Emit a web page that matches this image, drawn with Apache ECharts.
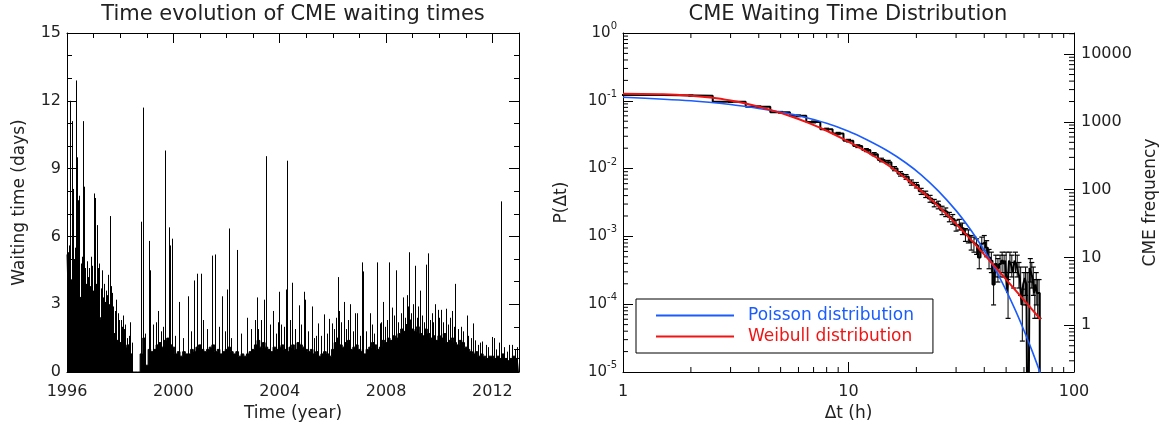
<!DOCTYPE html>
<html>
<head>
<meta charset="utf-8">
<title>CME waiting times</title>
<script src="https://cdn.jsdelivr.net/npm/echarts@6.0.0/dist/echarts.min.js"></script>
<style>
html, body { margin: 0; padding: 0; background: #fff; }
#chart { width: 1166px; height: 430px; }
</style>
</head>
<body>
<div id="chart"></div>
<script>
// ---- left panel: waiting times vs time
// dense part of the series, read off every 0.1 yr from 1996.0 to 2013.0
var baseStart = 1996, baseStep = 0.1;
var baseDays = [
    5.2, 3.0, 3.3, 3.6, 3.1, 3.3, 2.8, 3.2, 2.6, 2.3,   // 1996
    2.6, 2.8, 2.3, 2.4, 2.0, 2.1, 2.5, 2.6, 1.7, 1.4,   // 1997
    1.3, 1.0, 1.1, 1.2, 0.8, 0,   0,   0,   0.8, 1.5,   // 1998 (SOHO gap)
    0.3, 1.0, 0.9, 1.0, 1.2, 1.3, 1.1, 1.4, 1.5, 1.2,   // 1999
    1.1, 0.8, 0.9, 0.7, 0.9, 0.8, 0.8, 1.0, 0.9, 1.1,   // 2000
    1.2, 1.0, 0.9, 1.0, 1.1, 1.2, 0.9, 1.0, 0.8, 0.9,   // 2001
    1.0, 1.1, 0.9, 0.8, 0.9, 0.7, 0.8, 0.7, 0.8, 0.9,   // 2002
    1.0, 1.2, 1.4, 1.1, 1.3, 1.1, 1.0, 0.9, 1.1, 1.0,   // 2003
    1.1, 1.2, 1.0, 0.9, 1.1, 1.2, 1.0, 1.3, 1.2, 1.1,   // 2004
    1.0, 0.9, 1.0, 0.8, 0.9, 0.7, 0.8, 0.9, 0.8, 0.7,   // 2005
    1.0, 1.3, 1.5, 1.2, 1.1, 1.3, 1.4, 1.0, 1.1, 1.2,   // 2006
    1.0, 0.9, 0.8, 1.0, 1.1, 1.3, 1.2, 1.0, 1.1, 1.4,   // 2007
    1.3, 1.5, 1.4, 1.6, 1.5, 1.7, 1.9, 1.8, 2.1, 2.3,   // 2008
    1.9, 1.8, 2.0, 1.7, 1.6, 1.9, 1.7, 1.5, 1.6, 1.4,   // 2009
    1.6, 1.5, 1.7, 1.3, 1.4, 1.5, 1.3, 1.2, 1.4, 1.3,   // 2010
    1.1, 1.0, 0.9, 0.8, 0.9, 0.7, 0.8, 0.7, 0.6, 0.7,   // 2011
    0.7, 0.6, 0.7, 0.6, 0.8, 0.6, 0.5, 0.6, 0.7, 0.6,   // 2012
    0.6
];
// the long single waiting times
var spikeYears = [
    1996.05, 1996.11, 1996.17, 1996.22, 1996.28, 1996.33, 1996.37, 1996.42, 1996.47, 1996.55, 1996.60, 1996.65, 1996.75, 1996.83, 1996.90,
    1997.02, 1997.07, 1997.13, 1997.22, 1997.30, 1997.45, 1997.55, 1997.62, 1997.70, 1997.85, 1997.95,
    1998.10, 1998.25, 1998.38, 1998.78, 1998.84, 1998.92,
    1999.09, 1999.13, 1999.35, 1999.42, 1999.70, 1999.82, 1999.86, 1999.95,
    2000.21, 2000.54, 2000.79, 2000.90,
    2001.03, 2001.13, 2001.46, 2001.56, 2001.84,
    2002.03, 2002.09, 2002.40, 2002.76,
    2003.08, 2003.13, 2003.42, 2003.47, 2003.50, 2003.76, 2003.92, 2003.99,
    2004.15, 2004.23, 2004.28, 2004.47, 2004.72, 2004.91, 2004.94,
    2005.20, 2005.38, 2005.45, 2005.67, 2005.85, 2005.95,
    2006.18, 2006.24, 2006.41, 2006.66, 2006.84, 2006.90,
    2007.08, 2007.14, 2007.39, 2007.65, 2007.76, 2007.87,
    2008.12, 2008.23, 2008.37, 2008.62, 2008.84, 2008.87,
    2009.08, 2009.27, 2009.51, 2009.59, 2009.84, 2009.94,
    2010.07, 2010.49, 2010.61,
    2011.03, 2011.26, 2011.62, 2011.97,
    2012.07, 2012.34, 2012.74
];
var spikeDays = [
    5.3, 12.0, 11.1, 8.1, 5.0, 12.9, 9.5, 7.6, 7.8, 5.1, 11.1, 8.2, 4.9, 4.6, 5.1,
    7.9, 7.7, 6.5, 4.8, 4.5, 3.6, 4.3, 6.9, 3.5, 3.2, 2.3,
    2.5, 1.5, 2.2, 6.65, 11.7, 1.7,
    5.8, 4.5, 2.2, 2.7, 9.8, 6.4, 5.6, 5.9,
    3.1, 3.35, 4.05, 4.35,
    4.35, 2.3, 5.15, 5.2, 3.35,
    3.65, 6.35, 5.4, 2.4,
    2.3, 3.3, 3.2, 9.55, 4.6, 2.7, 2.2, 3.55,
    2.0, 3.65, 9.35, 3.95, 2.95, 3.55, 3.2,
    2.9, 1.6, 2.15, 2.55, 2.35, 2.15,
    4.2, 2.7, 3.1, 3.0, 2.6, 2.6,
    4.85, 4.45, 2.6, 4.85, 2.15, 3.1,
    4.85, 2.85, 4.5, 3.3, 2.9, 5.3,
    4.7, 3.6, 4.75, 5.25, 3.0, 2.75,
    2.75, 2.7, 3.9,
    2.5, 2.15, 1.35, 1.55,
    1.5, 7.55, 1.2
];
// shorter spikes that make the ragged top of the dense part
var midYears = [
    1996.02, 1996.08, 1996.14, 1996.19, 1996.25, 1996.31, 1996.40, 1996.44, 1996.51, 1996.58,
    1996.69, 1996.72, 1996.79, 1996.86, 1996.94, 1996.98, 1997.04, 1997.10, 1997.17, 1997.26,
    1997.34, 1997.38, 1997.42, 1997.50, 1997.58, 1997.66, 1997.74, 1997.80, 1997.90, 1998.02,
    1998.06, 1998.16, 1998.20, 1998.32, 1998.43,
    1999.25, 1999.55, 1999.62, 2000.05, 2000.35, 2000.65, 2001.25, 2001.70, 2001.93, 2002.18,
    2002.55, 2002.92, 2003.20, 2003.30, 2003.62, 2003.85, 2004.05, 2004.38, 2004.58, 2004.80,
    2005.05, 2005.30, 2005.55, 2005.78, 2006.05, 2006.12, 2006.30, 2006.50, 2006.58, 2006.76,
    2007.02, 2007.25, 2007.48, 2007.55, 2007.82, 2007.95, 2008.05, 2008.30, 2008.45, 2008.55,
    2008.70, 2008.78, 2008.95, 2009.02, 2009.15, 2009.22, 2009.35, 2009.42, 2009.66, 2009.72,
    2009.78, 2010.00, 2010.15, 2010.25, 2010.33, 2010.40, 2010.55, 2010.70, 2010.80, 2010.90,
    2011.10, 2011.18, 2011.35, 2011.45, 2011.55, 2011.75, 2011.85, 2012.15, 2012.25, 2012.45,
    2012.55, 2012.62, 2012.85, 2012.92
];
var midDays = [
    4.4, 5.6, 4.1, 6.2, 4.6, 5.5, 4.4, 3.9, 4.8, 4.2,
    4.6, 3.9, 4.2, 3.8, 4.7, 3.6, 4.4, 3.9, 4.6, 3.7,
    3.3, 3.9, 3.1, 3.4, 3.0, 3.8, 2.9, 2.7, 2.6, 2.3,
    2.0, 1.9, 2.1, 1.6, 1.3,
    2.1, 1.8, 2.0, 1.6, 1.5, 1.8, 1.9, 2.0, 1.8, 1.5,
    1.7, 1.9, 1.9, 2.3, 2.1, 1.7, 2.1, 2.3, 1.9, 2.1,
    1.8, 1.5, 1.6, 1.7, 1.9, 2.4, 2.2, 1.9, 2.3, 1.8,
    1.6, 1.8, 2.1, 1.7, 2.2, 2.0, 2.3, 2.5, 2.2, 2.6,
    2.4, 3.4, 2.6, 3.0, 2.4, 2.9, 2.5, 2.2, 2.3, 2.6,
    2.2, 2.4, 2.2, 2.8, 2.1, 2.4, 2.0, 1.9, 2.0, 1.8,
    1.6, 1.5, 1.4, 1.2, 1.3, 1.2, 1.1, 1.0, 1.3, 1.1,
    0.9, 1.2, 1.0, 1.1
];

// ---- right panel: waiting time distribution
var N_TOTAL = 20500;   // number of CMEs, links P(dt) axis to frequency axis
// CME counts in 1 h bins centred on 1, 2, 3 ... hours
var binCounts = [
    2500, 2440, 1990, 1680, 1390, 1230, 1000, 780, 675, 530,
    440, 385, 335, 275, 255, 205, 172, 155, 128, 117,
    95, 86, 74, 64, 60, 50, 47, 40, 37, 30,
    31, 27, 22, 21, 17, 16, 15, 10, 16, 17,
    14, 10, 9, 4, 8, 7, 8, 9, 8, 9,
    3, 9, 8, 6, 9, 8, 6, 5, 2, 4,
    5, 4, 0, 7, 6, 5, 3, 4, 3, 3,
    0
];
var binHours = binCounts.map(function (c, i) { return i + 1; });

var poisHours = [1, 2, 3, 4, 5, 6, 8, 10, 12, 15, 18, 21, 25, 30, 35, 40, 45, 50, 55, 60, 65, 71];
var poisProb = [0.113, 0.100, 0.088, 0.077, 0.068, 0.060, 0.0465, 0.0355, 0.0268, 0.0180, 0.0121, 0.0081,
    0.0047, 0.0024, 0.00122, 6.2e-4, 3.15e-4, 1.6e-4, 8.1e-5, 4.1e-5, 2.1e-5, 9.5e-6];

var weibHours = [1, 1.5, 2, 2.5, 3, 3.5, 4.5, 5.5, 6.6, 8, 9.6, 12.4, 15.1, 18.4, 22.4, 27.3, 33.2, 40.4, 49.2, 60, 71];
var weibProb = [0.127, 0.125, 0.119, 0.111, 0.101, 0.091, 0.0734, 0.0597, 0.0477, 0.0362, 0.0267, 0.0167,
    0.0110, 0.0067, 0.0039, 0.0021, 0.00107, 5.2e-4, 2.47e-4, 1.15e-4, 6.0e-5];

var F = 'DejaVu Sans';
var INK = '#000';
var TXT = '#222';
var BLUE = '#1a5cff';
var RED = '#f01414';
var FLOOR = 1e-3;   // empty bins are drawn below the visible range

function pairs(xs, ys) {
    return xs.map(function (x, i) { return [x, ys[i]]; });
}

var baseData = baseDays.map(function (v, i) {
    return [+(baseStart + i * baseStep).toFixed(2), v];
});

var histData = [];
binHours.forEach(function (h, i) {
    var n = Math.max(binCounts[i], FLOOR);
    histData.push([h - 0.5, n], [h + 0.5, n]);
});
var errData = [];
binHours.forEach(function (h, i) {
    if (binCounts[i] > 0) errData.push([h, binCounts[i]]);
});

function logMinor(lo, hi) {
    var out = [];
    for (var d = Math.floor(Math.log10(lo)); d <= Math.ceil(Math.log10(hi)); d++) {
        for (var k = 2; k <= 9; k++) {
            var v = k * Math.pow(10, d);
            if (v > lo * 1.0001 && v < hi * 0.9999) out.push([v, 1]);
        }
    }
    return out;
}

function seg(x1, y1, x2, y2, w) {
    return { type: 'line', shape: { x1: x1, y1: y1, x2: x2, y2: y2 }, style: { stroke: INK, lineWidth: w || 1 } };
}

function renderSpike(params, api) {
    var top = api.coord([api.value(0), api.value(1)]);
    var bot = api.coord([api.value(0), 0]);
    var x = Math.round(top[0]) + 0.5;
    return seg(x, top[1], x, bot[1], 1);
}

var lblStyle = { color: TXT, fontFamily: F, fontSize: 16 };
var nameStyle = { color: TXT, fontFamily: F, fontSize: 17 };

function linAxis(o) {
    var a = {
        type: 'value',
        gridIndex: o.grid,
        position: o.pos,
        min: o.min, max: o.max, interval: o.interval,
        axisLine: { show: o.line !== false, onZero: false, lineStyle: { color: INK, width: 1 } },
        axisTick: { show: true, inside: true, length: o.tick || 10, lineStyle: { color: INK } },
        axisLabel: o.labels ? Object.assign({ margin: o.margin || 8, formatter: function (v) { return String(v); } }, lblStyle) : { show: false },
        splitLine: { show: false }
    };
    if (o.minor) a.minorTick = { show: true, splitNumber: o.minor, length: 5, lineStyle: { color: INK } };
    if (o.name) {
        a.name = o.name; a.nameLocation = 'middle'; a.nameGap = o.nameGap;
        a.nameTextStyle = nameStyle;
        if (o.rotate) a.nameRotate = o.rotate;
    }
    return a;
}

function logAxis(o) {
    var a = {
        type: 'log', logBase: 10,
        gridIndex: 1,
        position: o.pos,
        min: o.min, max: o.max,
        axisLine: { show: true, onZero: false, lineStyle: { color: INK, width: 1 } },
        axisTick: { show: true, inside: true, length: 10, lineStyle: { color: INK } },
        axisLabel: o.label || { show: false },
        splitLine: { show: false }
    };
    if (o.name) {
        a.name = o.name; a.nameLocation = 'middle'; a.nameGap = o.nameGap;
        a.nameTextStyle = nameStyle;
        if (o.rotate) a.nameRotate = o.rotate;
    }
    return a;
}

var chart = echarts.init(document.getElementById('chart'), null, { renderer: 'canvas' });

var option = {
    animation: false,
    backgroundColor: '#fff',
    title: [
        { text: 'Time evolution of CME waiting times', left: 293, top: 4, textAlign: 'center', padding: 0,
          textStyle: { fontFamily: F, fontSize: 21, fontWeight: 'normal', color: TXT } },
        { text: 'CME Waiting Time Distribution', left: 848, top: 4, textAlign: 'center', padding: 0,
          textStyle: { fontFamily: F, fontSize: 21, fontWeight: 'normal', color: TXT } }
    ],
    grid: [
        { left: 67, top: 33, width: 452, height: 339, containLabel: false, outerBoundsMode: 'none' },
        { left: 623, top: 33, width: 451, height: 339, containLabel: false, outerBoundsMode: 'none' }
    ],
    legend: {
        left: 636, top: 299, orient: 'vertical',
        padding: [8, 19, 8, 20],
        itemWidth: 78, itemHeight: 2, itemGap: 4,
        icon: 'rect',
        borderColor: INK, borderWidth: 1,
        selectedMode: false,
        textStyle: { fontFamily: F, fontSize: 17, padding: [0, 0, 0, 9] },
        data: [
            { name: 'Poisson distribution', textStyle: { color: BLUE } },
            { name: 'Weibull distribution', textStyle: { color: RED } }
        ]
    },
    xAxis: [
        linAxis({ grid: 0, pos: 'bottom', min: 1996, max: 2013, interval: 4, labels: true, margin: 12,
                  name: 'Time (year)', nameGap: 31 }),
        linAxis({ grid: 0, pos: 'bottom', min: 1996, max: 2013, interval: 1, tick: 5, line: false }),
        linAxis({ grid: 0, pos: 'top', min: 1996, max: 2013, interval: 4 }),
        linAxis({ grid: 0, pos: 'top', min: 1996, max: 2013, interval: 1, tick: 5, line: false }),
        logAxis({ pos: 'bottom', min: 1, max: 100, name: '\u0394t (h)', nameGap: 31,
                  label: Object.assign({ margin: 12, formatter: function (v) { return String(Math.round(v)); } }, lblStyle) }),
        logAxis({ pos: 'top', min: 1, max: 100 })
    ],
    yAxis: [
        linAxis({ grid: 0, pos: 'left', min: 0, max: 15, interval: 3, minor: 3, labels: true, margin: 6,
                  name: 'Waiting time (days)', nameGap: 39, rotate: 90 }),
        linAxis({ grid: 0, pos: 'right', min: 0, max: 15, interval: 3, minor: 3 }),
        logAxis({ pos: 'left', min: 1e-5, max: 1, name: 'P(\u0394t)', nameGap: 53, rotate: 90,
                  label: {
                      margin: 6,
                      formatter: function (v) { return '{a|10}{b|' + Math.round(Math.log10(v)) + '}'; },
                      rich: {
                          a: { fontFamily: F, fontSize: 15, color: TXT },
                          b: { fontFamily: F, fontSize: 10, color: TXT, padding: [0, 0, 13, 0] }
                      }
                  } }),
        logAxis({ pos: 'right', min: N_TOTAL * 1e-5, max: N_TOTAL, name: 'CME frequency', nameGap: 68, rotate: 90,
                  label: Object.assign({ margin: 7, showMinLabel: false, showMaxLabel: false,
                      formatter: function (v) { return String(Math.round(v)); } }, lblStyle) })
    ],
    series: [
        {
            name: 'bulk', type: 'line', xAxisIndex: 0, yAxisIndex: 0,
            data: baseData, step: 'middle', symbol: 'none', silent: true,
            lineStyle: { color: INK, width: 1 }, areaStyle: { color: INK, opacity: 1 }
        },
        {
            name: 'midSpikes', type: 'custom', xAxisIndex: 0, yAxisIndex: 0, silent: true, clip: true,
            data: pairs(midYears, midDays), renderItem: renderSpike
        },
        {
            name: 'spikes', type: 'custom', xAxisIndex: 0, yAxisIndex: 0, silent: true, clip: true,
            data: pairs(spikeYears, spikeDays), renderItem: renderSpike
        },
        {
            name: 'histogram', type: 'line', xAxisIndex: 4, yAxisIndex: 3,
            data: histData, symbol: 'none', silent: true, clip: true,
            lineStyle: { color: INK, width: 2 }
        },
        {
            name: 'errors', type: 'custom', xAxisIndex: 4, yAxisIndex: 3, silent: true, clip: true,
            data: errData,
            renderItem: function (params, api) {
                var h = api.value(0), n = api.value(1), s = Math.sqrt(n);
                var lo = api.coord([h, Math.max(n - s, FLOOR)]);
                var hi = api.coord([h, n + s]);
                return { type: 'group', children: [
                    seg(lo[0], lo[1], hi[0], hi[1], 1),
                    seg(lo[0] - 2.5, lo[1], lo[0] + 2.5, lo[1], 1.2),
                    seg(hi[0] - 2.5, hi[1], hi[0] + 2.5, hi[1], 1.2)
                ] };
            }
        },
        {
            name: 'Poisson distribution', type: 'line', xAxisIndex: 4, yAxisIndex: 2,
            data: pairs(poisHours, poisProb), smooth: 0.3, symbol: 'none', clip: true,
            color: BLUE, lineStyle: { color: BLUE, width: 1.6 }
        },
        {
            name: 'Weibull distribution', type: 'line', xAxisIndex: 4, yAxisIndex: 2,
            data: pairs(weibHours, weibProb), smooth: 0.3, symbol: 'none', clip: true,
            color: RED, lineStyle: { color: RED, width: 2 }
        },
        {
            name: 'xMinor', type: 'custom', xAxisIndex: 4, yAxisIndex: 2, silent: true,
            data: logMinor(1, 100),
            renderItem: function (params, api) {
                var b = api.coord([api.value(0), 1e-5]);
                var t = api.coord([api.value(0), 1]);
                return { type: 'group', children: [
                    seg(b[0], b[1], b[0], b[1] - 5, 1),
                    seg(t[0], t[1], t[0], t[1] + 5, 1)
                ] };
            }
        },
        {
            name: 'pMinor', type: 'custom', xAxisIndex: 4, yAxisIndex: 2, silent: true,
            data: logMinor(1e-5, 1).map(function (d) { return [1, d[0]]; }),
            renderItem: function (params, api) {
                var p = api.coord([1, api.value(1)]);
                return seg(p[0], p[1], p[0] + 5, p[1], 1);
            }
        },
        {
            name: 'nMinor', type: 'custom', xAxisIndex: 4, yAxisIndex: 3, silent: true,
            data: logMinor(N_TOTAL * 1e-5, N_TOTAL).map(function (d) { return [100, d[0]]; }),
            renderItem: function (params, api) {
                var p = api.coord([100, api.value(1)]);
                return seg(p[0] - 5, p[1], p[0], p[1], 1);
            }
        }
    ]
};

chart.setOption(option);
</script>
</body>
</html>
